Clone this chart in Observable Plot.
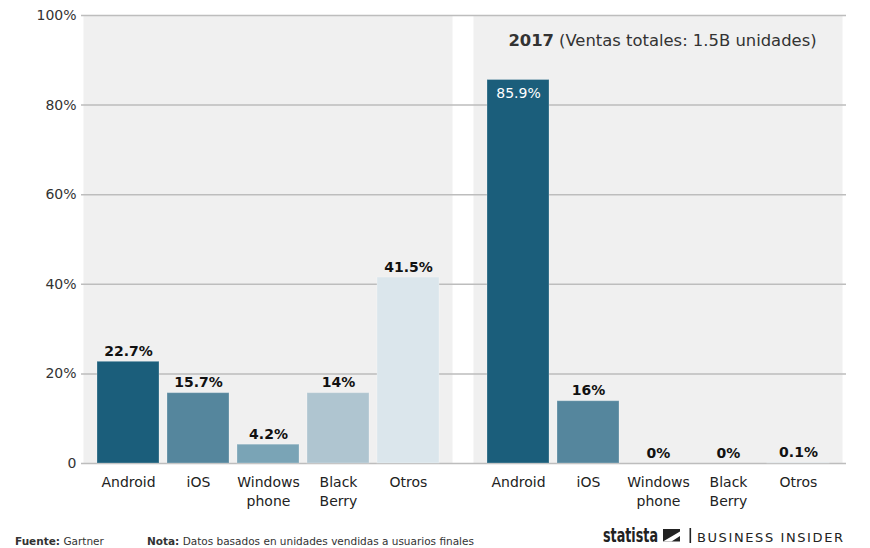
<!DOCTYPE html>
<html>
<head>
<meta charset="utf-8">
<script src="https://cdn.jsdelivr.net/npm/d3@7"></script>
<script src="https://cdn.jsdelivr.net/npm/@observablehq/plot@0.6"></script>
<style>
  html, body { margin: 0; padding: 0; background: #fff; }
  #wrap { position: relative; width: 870px; height: 548px; font-family: "DejaVu Sans", sans-serif; overflow: hidden; }
  #footer { position: absolute; left: 0; top: 520px; display: block; }
</style>
</head>
<body>
<div id="wrap">
  <div id="chart"></div>
  <svg id="footer" width="870" height="28" viewBox="0 0 870 28" font-family="DejaVu Sans, sans-serif">
    <text x="15" y="24.5" font-size="10.5" fill="#333"><tspan font-weight="bold">Fuente:</tspan> Gartner</text>
    <text x="147" y="24.5" font-size="10.5" fill="#333"><tspan font-weight="bold">Nota:</tspan> Datos basados en unidades vendidas a usuarios finales</text>
    <text x="603" y="22" font-size="20" font-weight="bold" font-family="DejaVu Sans Condensed, DejaVu Sans, sans-serif" fill="#222" textLength="55" lengthAdjust="spacingAndGlyphs">statista</text>
    <path d="M663 9 H680 V21.5 H663 Z" fill="#222"/>
    <path d="M663 21.5 L680 11.5 V16 L671.5 21.5 Z" fill="#fff"/>
    <rect x="689.5" y="8" width="1.6" height="15" fill="#222"/>
    <text x="697" y="22" font-size="13" fill="#222" textLength="146" lengthAdjust="spacing">BUSINESS INSIDER</text>
  </svg>
</div>
<script>
const categories = ["Android", "iOS", "Windows phone", "Black Berry", "Otros"];
const years = ["2009", "2017"];
const share2009 = [22.7, 15.7, 4.2, 15.7, 41.5];
const share2017 = [85.6, 13.9, 0, 0, 0.1];
const labels2009 = ["22.7%", "15.7%", "4.2%", "14%", "41.5%"];
const labels2017 = ["85.9%", "16%", "0%", "0%", "0.1%"];
const colors = ["#1b5e7b", "#55869d", "#7aa4b6", "#afc5d0", "#dbe6ec"];
const yTicks = [0, 20, 40, 60, 80, 100];
const titleYear = "2017";
const titleRest = "(Ventas totales: 1.5B unidades)";

const data = years.flatMap((yr, i) => categories.map((c, j) => ({
  year: yr,
  category: c,
  value: (i ? share2017 : share2009)[j],
  label: (i ? labels2017 : labels2009)[j]
})));
const outside = data.filter(d => d.value < 60);
const inside = data.filter(d => d.value >= 60);

const chart = Plot.plot({
  width: 870,
  height: 520,
  marginLeft: 82,
  marginRight: 27,
  marginTop: 15,
  marginBottom: 57,
  style: { fontFamily: "DejaVu Sans", fontSize: "14px", color: "#333", background: "#fff" },
  fx: { domain: years, paddingInner: 0.0537, paddingOuter: 0, axis: null, label: null },
  x: { domain: categories, paddingInner: 0.116, paddingOuter: 0.175, align: 0.5, label: null, axis: null },
  y: { domain: [0, 100], label: null, axis: null },
  color: { domain: categories, range: colors },
  marks: [
    Plot.frame({ fill: "#f0f0f0", stroke: null }),
    Plot.ruleY(yTicks, { y: d => d, fx: () => "2009", stroke: "#bdbdbd", strokeWidth: 1.5, insetLeft: -2, insetRight: -21 }),
    Plot.ruleY(yTicks, { y: d => d, fx: () => "2017", stroke: "#bdbdbd", strokeWidth: 1.5, insetRight: -4 }),
    Plot.barY(data, { fx: "year", x: "category", y: "value", fill: "category", stroke: "#fff", strokeOpacity: 0.25, strokeWidth: 1 }),
    Plot.text(outside, { fx: "year", x: "category", y: "value", text: "label", lineAnchor: "bottom", dy: -6, fontWeight: "bold", fill: "#111", fontSize: 14 }),
    Plot.text(inside, { fx: "year", x: "category", y: "value", text: "label", lineAnchor: "middle", dy: 14, fill: "#fff", fontSize: 14 }),
    Plot.axisY({ ticks: yTicks, tickFormat: d => d === 0 ? "0" : d + "%", tickSize: 0, tickPadding: 7, fontSize: 14, fill: "#333", label: null }),
    Plot.axisX({ tickSize: 0, tickPadding: 11, lineHeight: 1.3, fontSize: 14, fill: "#222", label: null, tickFormat: d => d.replace(" ", "\n") }),
    Plot.text([titleYear], { fx: () => "2017", frameAnchor: "top", text: d => d, textAnchor: "end", lineAnchor: "middle", dx: -104, dy: 25, fontWeight: "bold", fontSize: 16.4, fill: "#333" }),
    Plot.text([titleRest], { fx: () => "2017", frameAnchor: "top", text: d => d, textAnchor: "start", lineAnchor: "middle", dx: -99, dy: 25, fontSize: 16.4, fill: "#333" })
  ]
});
document.getElementById("chart").appendChild(chart);
</script>
</body>
</html>
